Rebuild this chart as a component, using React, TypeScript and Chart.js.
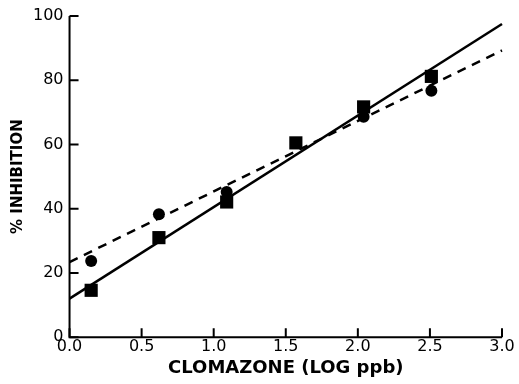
import { useEffect, useRef } from "react";
import { Chart, registerables } from "chart.js";

Chart.register(...registerables);

// Axis ticks
const xTicks = [0, 0.5, 1.0, 1.5, 2.0, 2.5, 3.0];
const yTicks = [0, 20, 40, 60, 80, 100];

// Squares (solid regression line)
const squareX = [0.15, 0.62, 1.09, 1.57, 2.04, 2.51];
const squareY = [14.6, 31.0, 42.1, 60.5, 71.7, 81.2];

// Circles (dashed regression line)
const circleX = [0.15, 0.62, 1.09, 2.04, 2.51];
const circleY = [23.7, 38.3, 45.2, 68.6, 76.7];

// Regression line end points
const fitX = [0, 3.0];
const solidFitY = [12.0, 97.5];
const dashedFitY = [23.4, 89.3];

const xTitle = "CLOMAZONE (LOG ppb)";
const yTitle = "% INHIBITION";

const FONT = "'DejaVu Sans', sans-serif";

const inwardAxes = {
  id: "inwardAxes",
  beforeDatasetsDraw(chart: any) {
    const { ctx, scales } = chart;
    const xs = scales.x;
    const ys = scales.y;
    const x0 = xs.getPixelForValue(xTicks[0]);
    const x1 = xs.getPixelForValue(xTicks[xTicks.length - 1]);
    const y0 = ys.getPixelForValue(yTicks[0]);
    const y1 = ys.getPixelForValue(yTicks[yTicks.length - 1]);
    ctx.save();
    ctx.strokeStyle = "#000";
    ctx.lineWidth = 2;
    ctx.lineCap = "butt";
    ctx.beginPath();
    ctx.moveTo(x0, y1);
    ctx.lineTo(x0, y0);
    ctx.lineTo(x1, y0);
    ctx.stroke();
    ctx.beginPath();
    for (const t of yTicks) {
      const p = ys.getPixelForValue(t);
      ctx.moveTo(x0, p);
      ctx.lineTo(x0 + 9, p);
    }
    for (const t of xTicks) {
      const p = xs.getPixelForValue(t);
      ctx.moveTo(p, y0);
      ctx.lineTo(p, y0 - 9);
    }
    ctx.stroke();
    ctx.restore();
  },
};

export default function App() {
  const ref = useRef<HTMLCanvasElement | null>(null);

  useEffect(() => {
    if (!ref.current) return;
    const chart = new Chart(ref.current, {
      type: "scatter",
      data: {
        datasets: [
          {
            label: "solid fit",
            data: fitX.map((x, i) => ({ x, y: solidFitY[i] })),
            showLine: true,
            borderColor: "#000",
            borderWidth: 2.5,
            pointRadius: 0,
            order: 3,
          },
          {
            label: "dashed fit",
            data: fitX.map((x, i) => ({ x, y: dashedFitY[i] })),
            showLine: true,
            borderColor: "#000",
            borderWidth: 2.5,
            borderDash: [9, 7],
            pointRadius: 0,
            order: 3,
          },
          {
            label: "circles",
            data: circleX.map((x, i) => ({ x, y: circleY[i] })),
            pointStyle: "circle",
            pointRadius: 6,
            backgroundColor: "#000",
            borderColor: "#000",
            borderWidth: 0,
            order: 2,
          },
          {
            label: "squares",
            data: squareX.map((x, i) => ({ x, y: squareY[i] })),
            pointStyle: "rect",
            pointRadius: 9.3,
            backgroundColor: "#000",
            borderColor: "#000",
            borderWidth: 0,
            order: 1,
          },
        ],
      },
      options: {
        animation: false,
        responsive: false,
        devicePixelRatio: 1,
        clip: false as any,
        layout: { padding: { left: 7, right: 17, top: 16, bottom: 3 } },
        plugins: {
          legend: { display: false },
          tooltip: { enabled: false },
        },
        scales: {
          x: {
            type: "linear",
            min: 0,
            max: 3,
            afterBuildTicks: (s: any) => {
              s.ticks = xTicks.map((v) => ({ value: v }));
            },
            ticks: {
              color: "#000",
              padding: 0,
              font: { family: FONT, size: 16 },
              callback: (v: any) => Number(v).toFixed(1),
            },
            grid: { display: false, drawTicks: false },
            border: { display: false },
            title: {
              display: true,
              text: xTitle,
              color: "#000",
              font: { family: FONT, size: 18, weight: "bold" },
              padding: { top: 1, bottom: 2 },
            },
          },
          y: {
            type: "linear",
            min: 0,
            max: 100,
            afterBuildTicks: (s: any) => {
              s.ticks = yTicks.map((v) => ({ value: v }));
            },
            ticks: {
              color: "#000",
              padding: 6,
              font: { family: FONT, size: 16 },
            },
            grid: { display: false, drawTicks: false },
            border: { display: false },
            title: {
              display: true,
              text: yTitle,
              color: "#000",
              font: { family: FONT, size: 15, weight: "bold" },
              padding: { top: 2, bottom: 0 },
            },
          },
        },
      },
      plugins: [inwardAxes],
    });
    return () => chart.destroy();
  }, []);

  return (
    <div style={{ position: "fixed", left: 0, top: 0, width: 519, height: 384, background: "#fff" }}>
      <canvas ref={ref} width={519} height={384} />
    </div>
  );
}
